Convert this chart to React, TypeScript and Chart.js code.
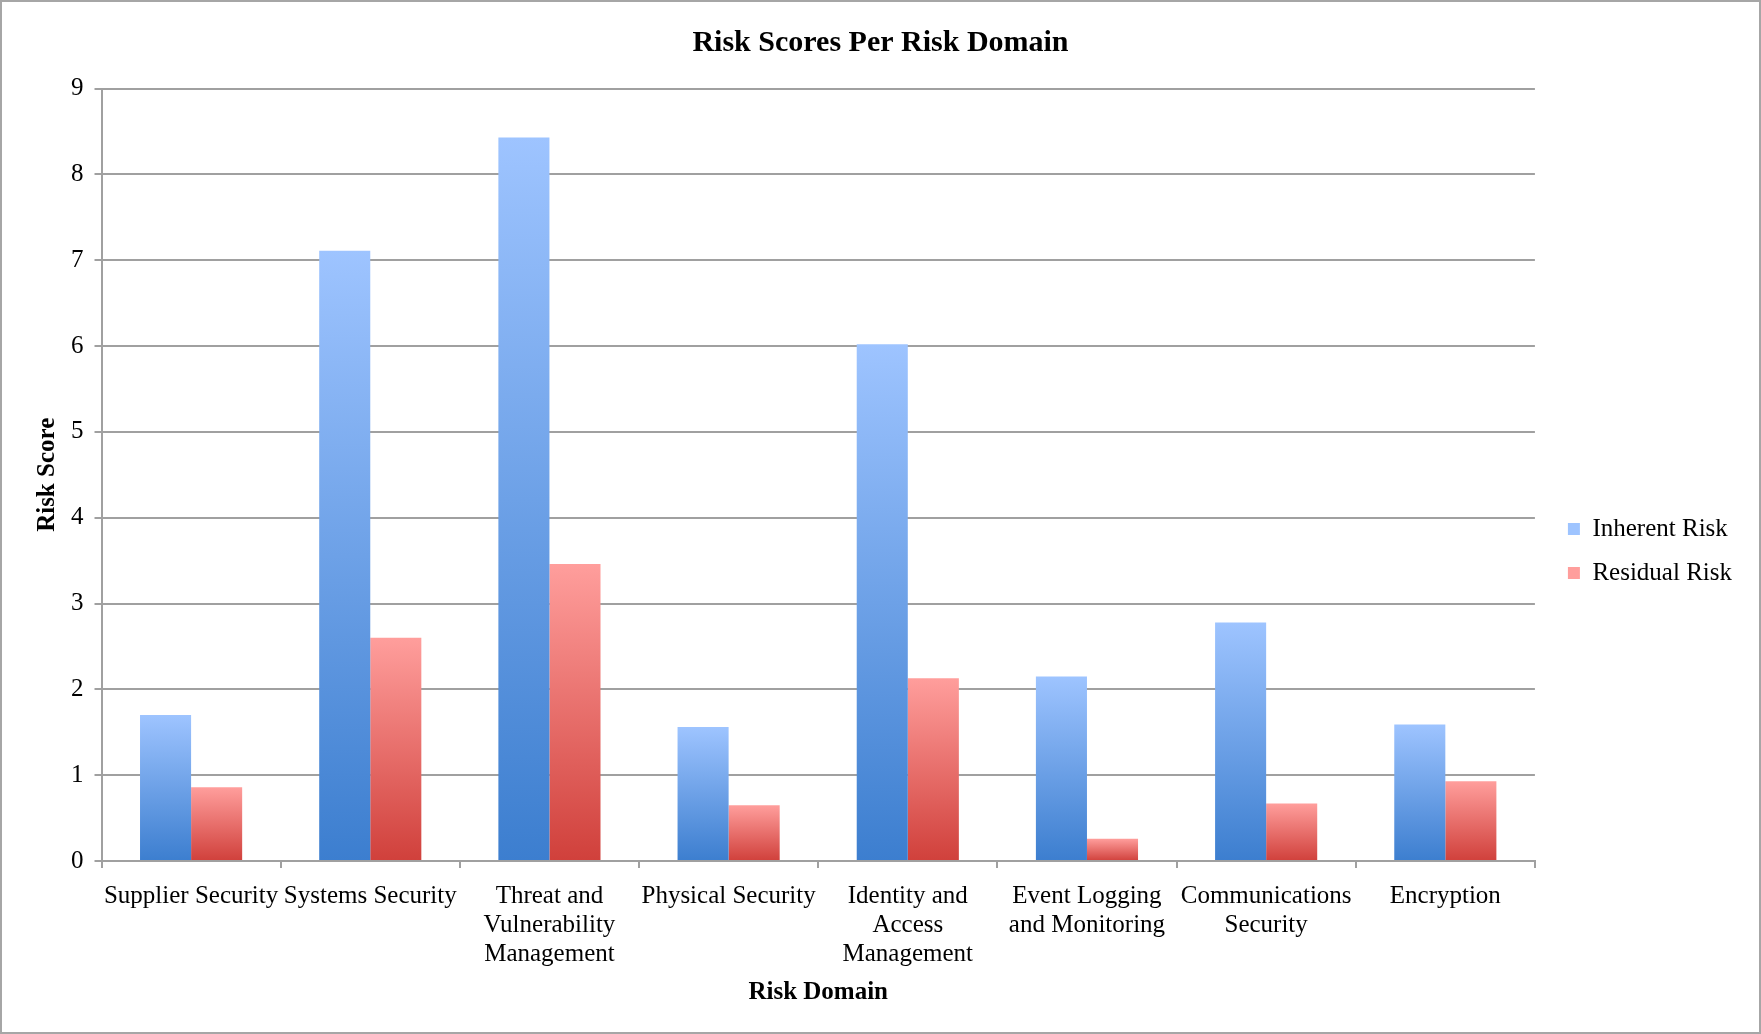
import { useEffect, useRef } from 'react';
import { Chart, registerables, type ScriptableContext } from 'chart.js';

Chart.register(...registerables);

// categories on the x axis (arrays are wrapped lines)
const categories: string[][] = [
  ['Supplier Security'],
  ['Systems Security'],
  ['Threat and', 'Vulnerability', 'Management'],
  ['Physical Security'],
  ['Identity and', 'Access', 'Management'],
  ['Event Logging', 'and Monitoring'],
  ['Communications', 'Security'],
  ['Encryption'],
];

const inherentRisk = [1.7, 7.11, 8.43, 1.56, 6.02, 2.15, 2.78, 1.59];
const residualRisk = [0.86, 2.6, 3.46, 0.65, 2.13, 0.26, 0.67, 0.93];

const yMin = 0;
const yMax = 9;
const yStep = 1;

const GRID = '#a0a0a0';
const FONT = "'Liberation Serif', 'Times New Roman', serif";

// legend nudges, in px, applied after Chart.js has laid the boxes out
const LEGEND_DX = -17;
const LEGEND_DY = 34;
const RIGHT_GAP = 31;

function barGradient(top: string, bottom: string, flat: string) {
  return (ctx: ScriptableContext<'bar'>) => {
    const { chart } = ctx;
    const y = chart.scales.y;
    if (ctx.type !== 'data' || !chart.chartArea || !y) return flat;
    const v = ctx.raw as number;
    const g = chart.ctx.createLinearGradient(0, y.getPixelForValue(v), 0, y.getPixelForValue(0));
    g.addColorStop(0, top);
    g.addColorStop(1, bottom);
    return g;
  };
}

const legendPlacement = {
  id: 'legendPlacement',
  afterLayout(chart: Chart) {
    const legend = chart.legend;
    if (!legend) return;
    legend.left += LEGEND_DX;
    legend.right += LEGEND_DX;
    legend.top += LEGEND_DY;
    legend.bottom += LEGEND_DY;
  },
};

function RiskChart() {
  const canvasRef = useRef<HTMLCanvasElement>(null);

  useEffect(() => {
    if (canvasRef.current === null) return undefined;
    Chart.defaults.font.family = FONT;
    Chart.defaults.color = '#000';

    const chart = new Chart(canvasRef.current, {
      type: 'bar',
      data: {
        labels: categories,
        datasets: [
          {
            label: 'Inherent Risk',
            data: inherentRisk,
            yAxisID: 'y',
            backgroundColor: barGradient('#9ec4ff', '#3c7ecf', '#5f93de'),
            borderWidth: 0,
            categoryPercentage: 0.57,
            barPercentage: 1,
          },
          {
            label: 'Residual Risk',
            data: residualRisk,
            yAxisID: 'y',
            backgroundColor: barGradient('#ff9e9c', '#d0403b', '#e2605c'),
            borderWidth: 0,
            categoryPercentage: 0.57,
            barPercentage: 1,
          },
        ],
      },
      options: {
        responsive: true,
        maintainAspectRatio: false,
        animation: false,
        events: [],
        layout: { padding: 0 },
        plugins: {
          title: {
            display: true,
            text: 'Risk Scores Per Risk Domain',
            color: '#000',
            font: { size: 30, weight: 'bold', lineHeight: 1.2 },
            padding: { top: 23.4, bottom: 27.2 },
          },
          legend: {
            position: 'right',
            labels: {
              boxWidth: 12,
              boxHeight: 12,
              padding: 19,
              color: '#000',
              font: { size: 25 },
            },
          },
          tooltip: { enabled: false },
        },
        scales: {
          x: {
            type: 'category',
            grid: {
              drawOnChartArea: false,
              drawTicks: true,
              tickLength: 7,
              color: GRID,
              lineWidth: 2,
              offset: true,
            },
            border: { display: true, color: GRID, width: 2 },
            ticks: {
              color: '#000',
              font: { size: 25, lineHeight: 1.16 },
              padding: 13.5,
              maxRotation: 0,
              minRotation: 0,
              autoSkip: false,
            },
            title: {
              display: true,
              text: 'Risk Domain',
              color: '#000',
              font: { size: 25, weight: 'bold', lineHeight: 1.2 },
              padding: { top: -4.8, bottom: 24.8 },
            },
          },
          y: {
            type: 'linear',
            min: yMin,
            max: yMax,
            grid: { color: GRID, lineWidth: 2, tickLength: 7, drawTicks: true },
            border: { display: true, color: GRID, width: 2 },
            ticks: { stepSize: yStep, color: '#000', font: { size: 25 }, padding: 11 },
            title: {
              display: true,
              text: 'Risk Score',
              color: '#000',
              font: { size: 25, weight: 'bold', lineHeight: 1.2 },
              padding: { top: 31, bottom: -3 },
            },
          },
          // empty axis that only keeps room between the plot and the legend
          gap: {
            type: 'linear',
            position: 'right',
            display: true,
            grid: { display: false },
            border: { display: false },
            ticks: { display: false },
            afterFit: (scale) => {
              scale.width = RIGHT_GAP;
            },
          },
        },
      },
      plugins: [legendPlacement],
    });

    return () => {
      chart.destroy();
    };
  }, []);

  return (
    <div
      style={{
        position: 'fixed',
        left: 0,
        top: 0,
        width: 1761,
        height: 1034,
        boxSizing: 'border-box',
        border: '2px solid #a6a6a6',
        background: '#fff',
      }}
    >
      <div style={{ position: 'relative', width: '100%', height: '100%' }}>
        <canvas ref={canvasRef} />
      </div>
    </div>
  );
}

export default function App() {
  return <RiskChart />;
}
